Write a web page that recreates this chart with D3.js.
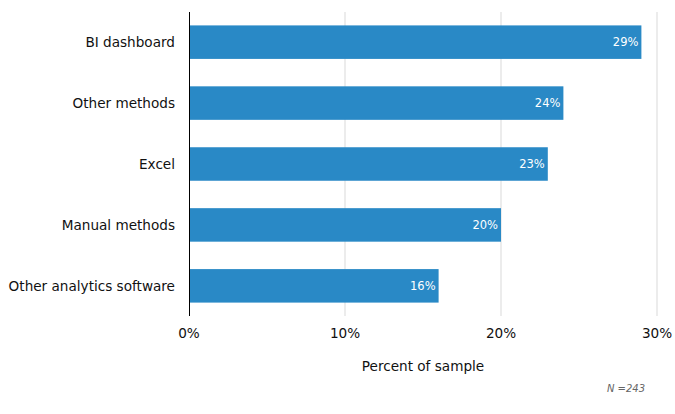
<!DOCTYPE html>
<html>
<head>
<meta charset="utf-8">
<script src="https://cdn.jsdelivr.net/npm/d3@7"></script>
<style>
html,body{margin:0;padding:0;background:#fff;}
svg text{font-family:"DejaVu Sans",Verdana,sans-serif;}
</style>
</head>
<body>
<svg id="chart" width="675" height="414"></svg>
<script>
const categories = ["BI dashboard","Other methods","Excel","Manual methods","Other analytics software"];
const values = [29,24,23,20,16];
const ticks = [0,10,20,30];
const axisTitle = "Percent of sample";
const note = "N =243";

const svg = d3.select("#chart");
const margin = {left:189, right:18, top:12, bottom:98};
const W = 675, H = 414;
const x = d3.scaleLinear().domain([0,30]).range([margin.left, W - margin.right]);
const y = d3.scaleBand().domain(categories).range([margin.top, H - margin.bottom]).paddingInner(0.45).paddingOuter(0.22);

// gridlines
svg.append("g").selectAll("line").data(ticks.filter(t=>t>0)).join("line")
  .attr("x1",d=>x(d)).attr("x2",d=>x(d))
  .attr("y1",margin.top).attr("y2",H-margin.bottom)
  .attr("stroke","#d9d9d9").attr("stroke-width",1);

// bars
svg.append("g").selectAll("rect").data(categories).join("rect")
  .attr("x",x(0)).attr("y",d=>y(d))
  .attr("width",(d,i)=>x(values[i])-x(0))
  .attr("height",y.bandwidth())
  .attr("fill","#2989c6");

// value labels
svg.append("g").selectAll("text").data(categories).join("text")
  .attr("x",(d,i)=>x(values[i])-3)
  .attr("y",d=>y(d)+y.bandwidth()/2)
  .attr("dy","0.35em")
  .attr("text-anchor","end")
  .attr("fill","#fff")
  .attr("font-size",11.5)
  .text((d,i)=>values[i]+"%");

// zero axis line
svg.append("line").attr("x1",x(0)+0.5).attr("x2",x(0)+0.5)
  .attr("y1",margin.top).attr("y2",H-margin.bottom)
  .attr("stroke","#000").attr("stroke-width",1);

// category labels
svg.append("g").selectAll("text").data(categories).join("text")
  .attr("x",x(0)-14)
  .attr("y",d=>y(d)+y.bandwidth()/2)
  .attr("dy","0.35em")
  .attr("text-anchor","end")
  .attr("fill","#111")
  .attr("font-size",13.6)
  .text(d=>d);

// x tick labels
svg.append("g").selectAll("text").data(ticks).join("text")
  .attr("x",d=>x(d))
  .attr("y",338)
  .attr("text-anchor","middle")
  .attr("fill","#111")
  .attr("font-size",13.6)
  .text(d=>d+"%");

// axis title
svg.append("text").attr("x",(x(0)+x(30))/2).attr("y",371)
  .attr("text-anchor","middle").attr("fill","#111").attr("font-size",13.6)
  .text(axisTitle);

// note
svg.append("text").attr("x",645).attr("y",392)
  .attr("text-anchor","end").attr("fill","#666").attr("font-size",10)
  .attr("font-style","italic")
  .text(note);
</script>
</body>
</html>
